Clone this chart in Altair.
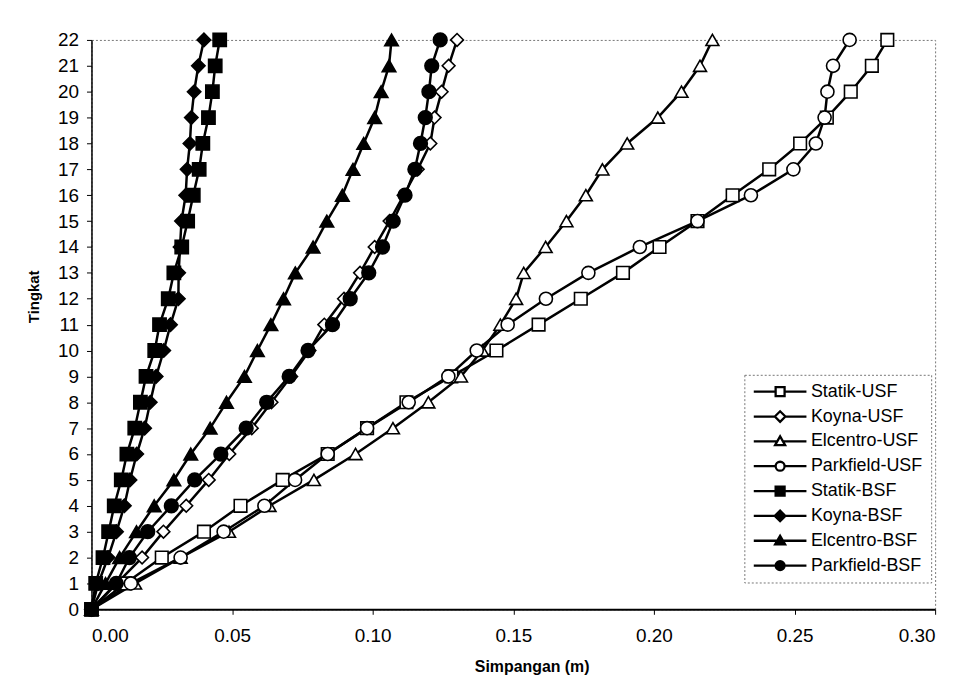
import altair as alt
import pandas as pd

levels = list(range(23))
series_names = ["Statik-USF", "Koyna-USF", "Elcentro-USF", "Parkfield-USF",
                "Statik-BSF", "Koyna-BSF", "Elcentro-BSF", "Parkfield-BSF"]

statik_usf = [0, 0.012, 0.025, 0.040, 0.053, 0.068, 0.084, 0.098, 0.112, 0.128, 0.144, 0.159,
              0.174, 0.189, 0.202, 0.2155, 0.228, 0.241, 0.252, 0.2615, 0.270, 0.2775, 0.283]
koyna_usf = [0, 0.009, 0.018, 0.0256, 0.0337, 0.0417, 0.049, 0.057, 0.064, 0.071, 0.0775, 0.0828,
             0.0898, 0.0955, 0.1007, 0.106, 0.111, 0.116, 0.1205, 0.122, 0.1245, 0.127, 0.130]
elcentro_usf = [0, 0.0155, 0.0317, 0.0489, 0.0633, 0.0791, 0.0939, 0.1072, 0.1198, 0.1314, 0.139, 0.1454,
                0.151, 0.1537, 0.1615, 0.1689, 0.1758, 0.1817, 0.1905, 0.2014, 0.2098, 0.2164, 0.2208]
parkfield_usf = [0, 0.014, 0.0317, 0.047, 0.0615, 0.0724, 0.084, 0.098, 0.1128, 0.1269, 0.137, 0.148,
                 0.1616, 0.1767, 0.195, 0.2155, 0.2345, 0.2496, 0.2576, 0.2607, 0.2617, 0.2637, 0.2696]
statik_bsf = [0, 0.0015, 0.0041, 0.0061, 0.0081, 0.0106, 0.0126, 0.0154, 0.0174, 0.0194, 0.0225, 0.0242,
              0.0273, 0.0293, 0.0321, 0.0342, 0.0362, 0.0383, 0.0396, 0.0416, 0.043, 0.044, 0.0456]
koyna_bsf = [0, 0.0024, 0.0059, 0.0089, 0.0117, 0.0137, 0.0161, 0.0189, 0.0209, 0.023, 0.0257, 0.0281,
             0.0309, 0.031, 0.0315, 0.032, 0.0335, 0.034, 0.035, 0.0355, 0.0365, 0.038, 0.040]
elcentro_bsf = [0, 0.005, 0.010, 0.016, 0.0223, 0.0293, 0.0353, 0.0422, 0.048, 0.0544, 0.059, 0.0638,
                0.0683, 0.0725, 0.0788, 0.0837, 0.0892, 0.093, 0.0968, 0.1007, 0.103, 0.1058, 0.1067]
parkfield_bsf = [0, 0.0088, 0.0135, 0.020, 0.0284, 0.0367, 0.046, 0.055, 0.0623, 0.0703, 0.077, 0.0857,
                 0.092, 0.0986, 0.1035, 0.1073, 0.1115, 0.115, 0.117, 0.1187, 0.120, 0.121, 0.124]

x_ticks = [0.0, 0.05, 0.10, 0.15, 0.20, 0.25, 0.30]

all_values = [statik_usf, koyna_usf, elcentro_usf, parkfield_usf,
              statik_bsf, koyna_bsf, elcentro_bsf, parkfield_bsf]
rows = []
for name, vals in zip(series_names, all_values):
    for lv, v in zip(levels, vals):
        rows.append({"series": name, "level": lv, "x": v})
df = pd.DataFrame(rows)

# styles
shape_plot = ["square", "diamond", "triangle-up", "circle",
              "square", "diamond", "triangle-up", "circle"]
fill_plot = ["white"] * 4 + ["black"] * 4
stroke_all = ["black"] * 8
line_w = [2.5, 2.5, 1.2, 2.5, 2.5, 2.5, 1.4, 2.5]
leg_w = [2.3, 2.3, 1.4, 2.3, 2.3, 2.3, 1.6, 2.3]
size_plot = [160, 190, 150, 190, 140, 190, 150, 190]

sq = "M-1,0H-0.17M0.17,0H1M-0.17,-0.17H0.17V0.17H-0.17Z"
di = "M-1,0H-0.2M0.2,0H1M-0.2,0L0,-0.2L0.2,0L0,0.2Z"
tr = "M-1,0H-0.11M0.11,0H1M0,-0.19L0.19,0.14L-0.19,0.14Z"
ci = "M-1,0H-0.17M0.17,0H1M-0.17,0A0.17,0.17 0 1,0 0.17,0A0.17,0.17 0 1,0 -0.17,0Z"
shape_leg = [sq, di, tr, ci, sq, di, tr, ci]

FONT = "Liberation Sans"

x_enc = alt.X("x:Q", scale=alt.Scale(domain=[0, 0.30], nice=False),
              axis=alt.Axis(values=x_ticks, format=".2f", title="Simpangan (m)",
                            labelPadding=12, titlePadding=14, titleFontSize=16,
                            titleX=443, domainWidth=2))
y_enc = alt.Y("level:Q", scale=alt.Scale(domain=[0, 22], nice=False),
              axis=alt.Axis(values=levels, title="Tingkat", labelPadding=8,
                            titlePadding=16, titleFontSize=15, titleY=258))

base = alt.Chart(df)

lines = base.mark_line(color="black").encode(
    x=x_enc, y=y_enc, detail="series:N",
    order=alt.Order("level:Q"),
    strokeWidth=alt.StrokeWidth("series:N",
                                scale=alt.Scale(domain=series_names, range=line_w),
                                legend=None),
)

points = base.mark_point(filled=True, stroke="black", strokeWidth=1.6, opacity=1).encode(
    x=x_enc, y=y_enc,
    shape=alt.Shape("series:N", scale=alt.Scale(domain=series_names, range=shape_plot), legend=None),
    fill=alt.Fill("series:N", scale=alt.Scale(domain=series_names, range=fill_plot), legend=None),
    size=alt.Size("series:N", scale=alt.Scale(domain=series_names, range=size_plot), legend=None),
)

leg = alt.Legend(title=None, orient="none", legendX=657, legendY=337,
                 labelFont=FONT, labelFontSize=18, labelColor="black",
                 symbolSize=2809, symbolOffset=0, labelOffset=3,
                 symbolStrokeColor="black", symbolStrokeWidth=2, symbolOpacity=1,
                 clipHeight=18, rowPadding=7, padding=8,
                 strokeColor="#777", fillColor="white")

legend_layer = base.mark_point(filled=True, stroke="black", strokeWidth=2, size=2809, opacity=1).encode(
    x=x_enc, y=y_enc,
    shape=alt.Shape("series:N", scale=alt.Scale(domain=series_names, range=shape_leg), legend=leg),
    fill=alt.Fill("series:N", scale=alt.Scale(domain=series_names, range=fill_plot), legend=leg),
    stroke=alt.Stroke("series:N", scale=alt.Scale(domain=series_names, range=stroke_all), legend=leg),
    strokeWidth=alt.StrokeWidth("series:N", scale=alt.Scale(domain=series_names, range=leg_w), legend=leg),
).transform_filter("datum.level < 0")

chart = alt.layer(lines, points, legend_layer).resolve_scale(
    shape="independent", fill="independent", size="independent",
    strokeWidth="independent", stroke="independent"
).properties(
    width=849, height=573,
    autosize=alt.AutoSizeParams(type="none"),
    padding={"left": 84, "top": 30, "right": 20, "bottom": 70},
).configure_view(
    stroke="#777", strokeDash=[2, 2], strokeWidth=1
).configure_axis(
    grid=False, domainColor="black", domainWidth=1.5, tickColor="black", tickSize=5,
    labelFont=FONT, labelFontSize=19, labelColor="black",
    titleFont=FONT, titleFontWeight="bold", titleColor="black",
).configure_legend(strokeDash=[2, 2])

chart.save("out.html", embed_options={"renderer": "svg", "actions": False})
